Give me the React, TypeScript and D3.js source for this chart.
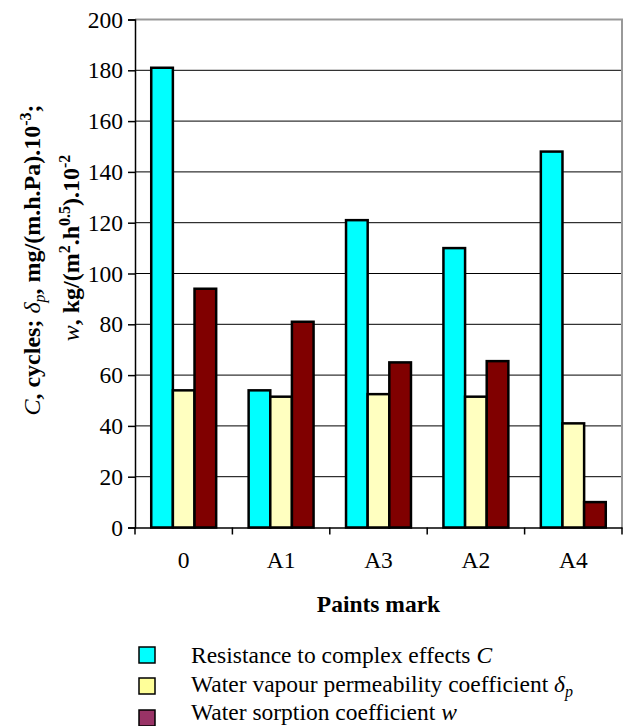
import React, { useEffect, useRef } from 'react';
import * as d3 from 'd3';

const categories = ['0', 'A1', 'A3', 'A2', 'A4'];
const resistanceC = [181, 54, 121, 110, 148];
const vapourDelta = [54, 51.5, 52.5, 51.5, 41];
const sorptionW = [94, 81, 65, 65.5, 10];
const yTicks = [0, 20, 40, 60, 80, 100, 120, 140, 160, 180, 200];

const barColors = ['#00FFFF', '#FFFFC0', '#800000'];
const legendColors = ['#00FFFF', '#FFFF99', '#993366'];

const FONT = '"Liberation Serif", "Times New Roman", serif';
const FS = '23.5px';

export default function App() {
  const svgRef = useRef<SVGSVGElement>(null);

  useEffect(() => {
    if (!svgRef.current) return;
    const svg = d3.select(svgRef.current);
    svg.selectAll('*').remove();

    const left = 135, right = 622, top = 19.5, bottom = 527.5;

    const x = d3.scaleBand().domain(categories).range([left, right]).paddingInner(0).paddingOuter(0);
    const barW = x.bandwidth() / 4.5;
    const x1 = d3.scaleBand<number>().domain([0, 1, 2])
      .range([barW * 0.75, barW * 3.75]);
    const y = d3.scaleLinear().domain([0, 200]).range([bottom, top]);

    // gridlines
    svg.append('g')
      .selectAll('line')
      .data(yTicks.filter(t => t > 0 && t < 200))
      .enter().append('line')
      .attr('x1', left).attr('x2', right)
      .attr('y1', d => y(d)).attr('y2', d => y(d))
      .attr('stroke', '#000').attr('stroke-width', 1);

    // plot border (top/right)
    svg.append('path')
      .attr('d', `M${left},${y(200)}H${right}V${bottom}`)
      .attr('fill', 'none').attr('stroke', '#999').attr('stroke-width', 2);

    // bars
    const series = [resistanceC, vapourDelta, sorptionW];
    series.forEach((vals, si) => {
      svg.append('g')
        .selectAll('rect')
        .data(vals)
        .enter().append('rect')
        .attr('x', (_, i) => (x(categories[i]) || 0) + (x1(si) || 0))
        .attr('y', d => y(d))
        .attr('width', x1.bandwidth())
        .attr('height', d => y(0) - y(d))
        .attr('fill', barColors[si])
        .attr('stroke', '#000')
        .attr('stroke-width', 2.5);
    });

    // y axis
    const yAxis = svg.append('g')
      .attr('transform', `translate(${left},0)`)
      .call(d3.axisLeft(y).tickValues(yTicks).tickSize(7).tickPadding(5));
    yAxis.select('.domain').attr('stroke', '#000').attr('stroke-width', 1.5);
    yAxis.selectAll('.tick line').attr('stroke', '#000').attr('stroke-width', 1.5);
    yAxis.selectAll('.tick text')
      .style('font-family', FONT).style('font-size', FS).attr('fill', '#000');

    // x axis
    const xAxis = svg.append('g')
      .attr('transform', `translate(0,${bottom})`)
      .call(d3.axisBottom(x).tickSize(0).tickPadding(24));
    xAxis.select('.domain').attr('stroke', '#000').attr('stroke-width', 1.5);
    xAxis.selectAll('.tick text')
      .style('font-family', FONT).style('font-size', FS).attr('fill', '#000');
    svg.append('g')
      .selectAll('line')
      .data(categories.concat(['end']))
      .enter().append('line')
      .attr('x1', (d, i) => i < categories.length ? (x(d) || 0) : right)
      .attr('x2', (d, i) => i < categories.length ? (x(d) || 0) : right)
      .attr('y1', bottom).attr('y2', bottom + 7)
      .attr('stroke', '#000').attr('stroke-width', 1.5);

    // x axis title
    svg.append('text')
      .attr('x', (left + right) / 2).attr('y', 612)
      .attr('text-anchor', 'middle')
      .style('font-family', FONT).style('font-size', FS).style('font-weight', 'bold')
      .text('Paints mark');

    // y axis title, two lines
    const l1 = svg.append('text')
      .attr('transform', 'translate(40,260) rotate(-90)')
      .attr('text-anchor', 'middle')
      .style('font-family', FONT).style('font-size', '24px').style('font-weight', 'bold');
    l1.append('tspan').style('font-style', 'italic').style('font-weight', 'normal').text('C');
    l1.append('tspan').text(', cycles; ');
    l1.append('tspan').style('font-style', 'italic').style('font-weight', 'normal').text('δ');
    l1.append('tspan').style('font-style', 'italic').style('font-weight', 'normal')
      .style('font-size', '16px').attr('dy', 5).text('p');
    l1.append('tspan').attr('dy', -5).text(', mg/(m.h.Pa).10');
    l1.append('tspan').style('font-size', '16px').attr('dy', -9).text('-3');
    l1.append('tspan').attr('dy', 9).text(';');

    const l2 = svg.append('text')
      .attr('transform', 'translate(79,248) rotate(-90)')
      .attr('text-anchor', 'middle')
      .style('font-family', FONT).style('font-size', '24px').style('font-weight', 'bold');
    l2.append('tspan').style('font-style', 'italic').style('font-weight', 'normal').text('w');
    l2.append('tspan').text(', kg/(m');
    l2.append('tspan').style('font-size', '16px').attr('dy', -9).text('2');
    l2.append('tspan').attr('dy', 9).text('.h');
    l2.append('tspan').style('font-size', '16px').attr('dy', -9).text('0.5');
    l2.append('tspan').attr('dy', 9).text(').10');
    l2.append('tspan').style('font-size', '16px').attr('dy', -9).text('-2');

    // legend
    const legendTops = [647, 678, 710];
    const legendBase = [663, 692, 720];
    legendColors.forEach((c, i) => {
      svg.append('rect')
        .attr('x', 139).attr('y', legendTops[i])
        .attr('width', 16).attr('height', 16)
        .attr('fill', c).attr('stroke', '#000').attr('stroke-width', 1.5);
      const t = svg.append('text')
        .attr('x', 191).attr('y', legendBase[i])
        .style('font-family', FONT).style('font-size', FS);
      if (i === 0) {
        t.append('tspan').text('Resistance to complex effects ');
        t.append('tspan').style('font-style', 'italic').text('C');
      } else if (i === 1) {
        t.append('tspan').text('Water vapour permeability coefficient ');
        t.append('tspan').style('font-style', 'italic').text('δ');
        t.append('tspan').style('font-style', 'italic').style('font-size', '16px').attr('dy', 5).text('p');
      } else {
        t.append('tspan').text('Water sorption coefficient ');
        t.append('tspan').style('font-style', 'italic').text('w');
      }
    });
  }, []);

  return (
    <svg ref={svgRef} width={626} height={726}
      style={{ position: 'absolute', left: 0, top: 0, background: '#fff' }} />
  );
}
